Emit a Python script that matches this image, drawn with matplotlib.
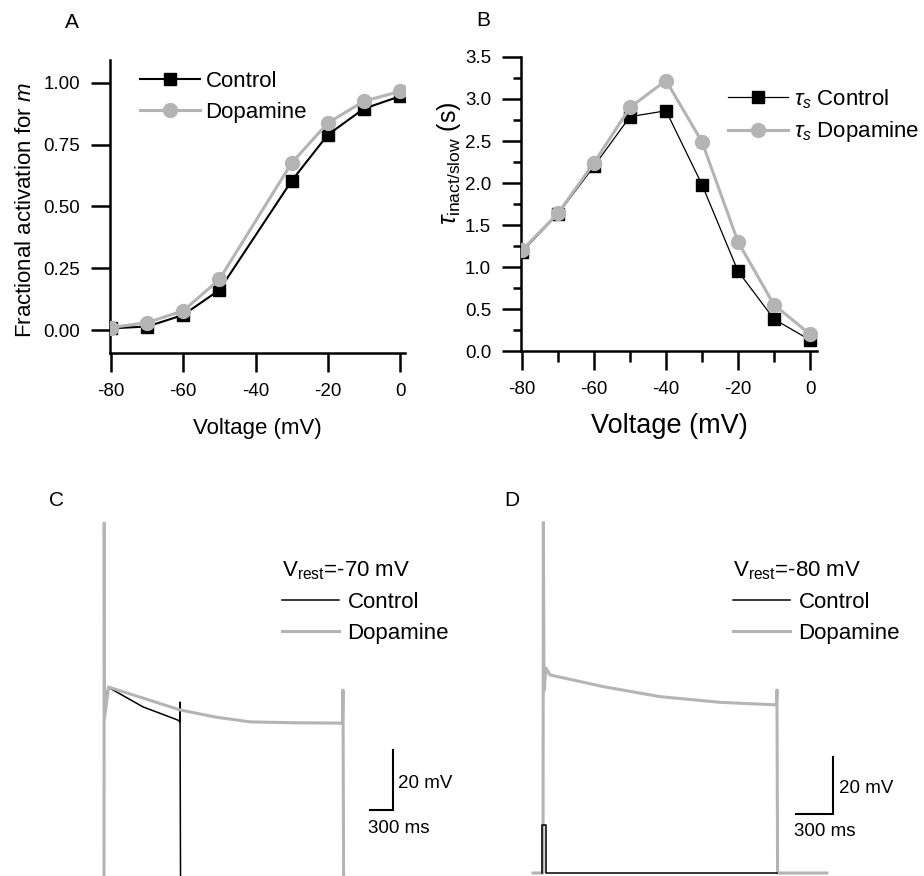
import matplotlib
matplotlib.use("Agg")
import matplotlib.pyplot as plt
from matplotlib.ticker import MultipleLocator, FormatStrFormatter

W, H = 924, 876
GRAY = "#b4b4b4"

# A: fractional activation for m
act_voltage = [-80, -70, -60, -50, -30, -20, -10, 0]
act_control = [0.007, 0.014, 0.061, 0.162, 0.604, 0.79, 0.896, 0.946]
act_dopamine = [0.01, 0.03, 0.078, 0.205, 0.676, 0.838, 0.926, 0.966]

# B: slow inactivation time constant (s)
tau_voltage = [-80, -70, -60, -50, -40, -30, -20, -10, 0]
tau_control = [1.18, 1.63, 2.2, 2.79, 2.86, 1.98, 0.95, 0.38, 0.13]
tau_dopamine = [1.2, 1.64, 2.24, 2.9, 3.22, 2.49, 1.3, 0.55, 0.2]

# C: traces at Vrest = -70 mV (time in ms, voltage in mV)
c_control_t = [-60, 0, 2, 6, 52, 507, 962, 985, 988, 995, 3680]
c_control_v = [-72, -72, 46, -16, -7.7, -14.3, -18.7, -19.2, -12.7, -72, -72]
c_dopamine_t = [-60, 0, 3, 7, 60, 500, 988, 1450, 1900, 2500, 3050, 3100, 3107, 3115, 3680]
c_dopamine_v = [-72, -72, 47, -18, -7.7, -11.3, -15.3, -17.7, -19.3, -19.6, -19.7, -19.8, -8.7, -72, -72]

# D: traces at Vrest = -80 mV
d_control_t = [-10, -10, 24, 24, 1895]
d_control_v = [-80, -63.2, -63.2, -80, -80]
d_dopamine_t = [-81, 0, 3, 8, 25, 57, 489, 948, 1434, 1890, 1895, 1900, 2300]
d_dopamine_v = [-80, -80, 43, -16, -8.1, -10.5, -14.6, -18.1, -20.1, -21.0, -15.8, -80, -80]


def px_box(left, top, right, bottom):
    return [left / W, 1 - bottom / H, (right - left) / W, (bottom - top) / H]


def clean_spines(ax):
    ax.spines["top"].set_visible(False)
    ax.spines["right"].set_visible(False)
    ax.spines["left"].set_linewidth(1.8)
    ax.spines["bottom"].set_linewidth(1.8)


def panel_a(fig):
    ax = fig.add_axes(px_box(110, 60, 405, 353))
    ax.plot(act_voltage, act_control, color="black", lw=1.5, marker="s",
            ms=8.5, label="Control", zorder=2)
    ax.plot(act_voltage, act_dopamine, color=GRAY, lw=2.2, marker="o",
            ms=10, label="Dopamine", zorder=3)
    ax.set_xlim(-80.28, 1.38)
    ax.set_ylim(-0.093, 1.093)
    ax.set_xticks([-80, -60, -40, -20, 0])
    ax.set_yticks([0, 0.25, 0.5, 0.75, 1.0])
    ax.yaxis.set_major_formatter(FormatStrFormatter("%.2f"))
    clean_spines(ax)
    ax.tick_params(direction="out", length=13.5, width=1.8, labelsize=13.5, pad=8)
    ax.set_xlabel("Voltage (mV)", fontsize=16, va="top")
    ax.xaxis.set_label_coords(0.5, -0.222)
    ax.set_ylabel("Fractional activation for $m$", fontsize=16)
    ax.yaxis.set_label_coords(-0.251, 0.488)
    ax.legend(loc="upper left", bbox_to_anchor=(140 / W, 1 - 71 / H),
              bbox_transform=fig.transFigure, frameon=False, fontsize=16,
              handlelength=2.7, handletextpad=0.25, labelspacing=0.45,
              borderpad=0, borderaxespad=0)


def panel_b(fig):
    ax = fig.add_axes(px_box(521, 57, 817, 351))
    ax.plot(tau_voltage, tau_control, color="black", lw=0.9, marker="s",
            ms=8.5, label=r"$\tau_s$ Control", zorder=2)
    ax.plot(tau_voltage, tau_dopamine, color=GRAY, lw=2.2, marker="o",
            ms=10, label=r"$\tau_s$ Dopamine", zorder=3)
    ax.set_xlim(-80.28, 1.94)
    ax.set_ylim(0, 3.5)
    ax.xaxis.set_major_locator(MultipleLocator(20))
    ax.xaxis.set_minor_locator(MultipleLocator(10))
    ax.yaxis.set_major_locator(MultipleLocator(0.5))
    ax.yaxis.set_minor_locator(MultipleLocator(0.25))
    ax.yaxis.set_major_formatter(FormatStrFormatter("%.1f"))
    clean_spines(ax)
    ax.tick_params(which="major", direction="out", length=13.5, width=1.8,
                   labelsize=13.5, pad=8)
    ax.tick_params(axis="x", which="minor", direction="out", length=8, width=1.8)
    ax.tick_params(axis="y", which="minor", direction="out", length=6, width=1.8)
    ax.set_xlabel("Voltage (mV)", fontsize=19.5, va="top")
    ax.xaxis.set_label_coords(0.5, -0.21)
    ax.set_ylabel(r"$\tau_{\mathrm{inact/slow}}$ (s)", fontsize=18)
    ax.yaxis.set_label_coords(-0.196, 0.639)
    ax.legend(loc="upper left", bbox_to_anchor=(728 / W, 1 - 87 / H),
              bbox_transform=fig.transFigure, frameon=False, fontsize=16,
              handlelength=2.7, handletextpad=0.25, labelspacing=0.4,
              borderpad=0, borderaxespad=0)


def trace_panel(fig, box, xlim, ylim, ctrl, dopa, rest, bar, gray_top, legend_xy):
    ax = fig.add_axes(px_box(*box))
    z_ctrl, z_dopa = (2, 3) if gray_top else (3, 2)
    ax.plot(ctrl[0], ctrl[1], color="black", lw=1.1, label="Control", zorder=z_ctrl)
    ax.plot(dopa[0], dopa[1], color=GRAY, lw=2.2, label="Dopamine", zorder=z_dopa)
    ax.set_xlim(*xlim)
    ax.set_ylim(*ylim)
    ax.axis("off")

    # scale bars: 300 ms and 20 mV
    t0, v0 = bar
    ax.plot([t0 - 300, t0, t0], [v0, v0, v0 + 20], color="black", lw=1.5,
            solid_joinstyle="miter")
    ax.text(t0 + 65 * (xlim[1] - xlim[0]) / 4680, v0 + 9, "20 mV",
            fontsize=13.5, va="center", ha="left")
    ax.text(t0 - 300 - 25 * (xlim[1] - xlim[0]) / 4680, v0 - 6, "300 ms",
            fontsize=13.5, va="center", ha="left")

    ax.legend(loc="upper left", bbox_to_anchor=(legend_xy[0] / W, 1 - legend_xy[1] / H),
              bbox_transform=fig.transFigure, frameon=False, fontsize=16,
              title=r"V$_{\mathrm{rest}}$=%d mV" % rest, title_fontsize=16,
              alignment="left", handlelength=2.55, handletextpad=0.4,
              labelspacing=0.45, borderpad=0, borderaxespad=0)
    return ax


def main():
    plt.rcParams["font.family"] = ["Liberation Sans", "DejaVu Sans"]
    plt.rcParams["mathtext.fontset"] = "custom"
    plt.rcParams["mathtext.rm"] = "Liberation Sans"
    plt.rcParams["mathtext.it"] = "Liberation Sans:italic"
    plt.rcParams["mathtext.bf"] = "Liberation Sans:bold"
    plt.rcParams["axes.unicode_minus"] = False

    fig = plt.figure(figsize=(W / 100, H / 100), dpi=100)

    panel_a(fig)
    panel_b(fig)

    trace_panel(fig, (95, 500, 455, 876), (-117, 4563), (-70.67, 54.67),
                (c_control_t, c_control_v), (c_dopamine_t, c_dopamine_v),
                -70, (3757, -48.7), True, (282, 559))
    trace_panel(fig, (525, 500, 924, 876), (-145.8, 3086), (-81.05, 50.9),
                (d_control_t, d_control_v), (d_dopamine_t, d_dopamine_v),
                -80, (2349, -59.3), False, (733, 559))

    for letter, x, y in [("A", 72, 22), ("B", 483, 20), ("C", 57, 500), ("D", 512, 500)]:
        fig.text(x / W, 1 - y / H, letter, fontsize=15, ha="center", va="center")

    fig.savefig("out.png", dpi=100)


if __name__ == "__main__":
    main()
